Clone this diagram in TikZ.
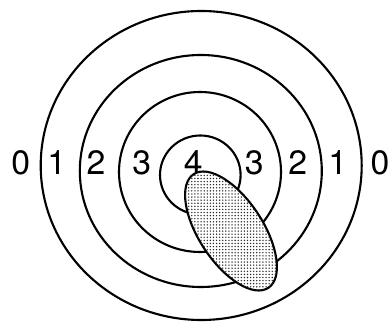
\documentclass[tikz,border=0pt]{standalone}
\usepackage{fontspec}
\setmainfont{TeX Gyre Heros}
\usetikzlibrary{patterns.meta}

\tikzset{
    ring/.style={line width=1.5pt},
    score/.style={font=\fontsize{24}{24}\selectfont, inner sep=0pt},
    shot/.style={line width=1.5pt, fill=white,
        postaction={pattern={Dots[distance=2.2pt, radius=0.55pt]}, pattern color=black!85}}
}

\begin{document}
\begin{tikzpicture}[x=0.025cm, y=0.025cm]
    \useasboundingbox (0,0) rectangle (388,327);

    % Rings (outer to inner)
    \draw[ring] (201.2,161.5) ellipse [x radius=160.5, y radius=154.5];
    \draw[ring] (200.8,156) ellipse [x radius=121, y radius=116];
    \draw[ring] (200,155) ellipse [x radius=81, y radius=80];
    \draw[ring] (200.3,152) ellipse [x radius=40.3, y radius=39.5];

    % Scores across the middle
    \foreach \x/\s [count=\i] in {20.7/0, 56.7/1, 96/2, 141.7/3, 193.3/4, 254.3/3, 297.7/2, 337.7/1, 380/0} {
        \node[score] (s\i) at (\x,164.5) {\s};
    }

    % Hit area
    \draw[shot] (231,96) ellipse [x radius=68, y radius=32, rotate=-56.7];
\end{tikzpicture}
\end{document}
